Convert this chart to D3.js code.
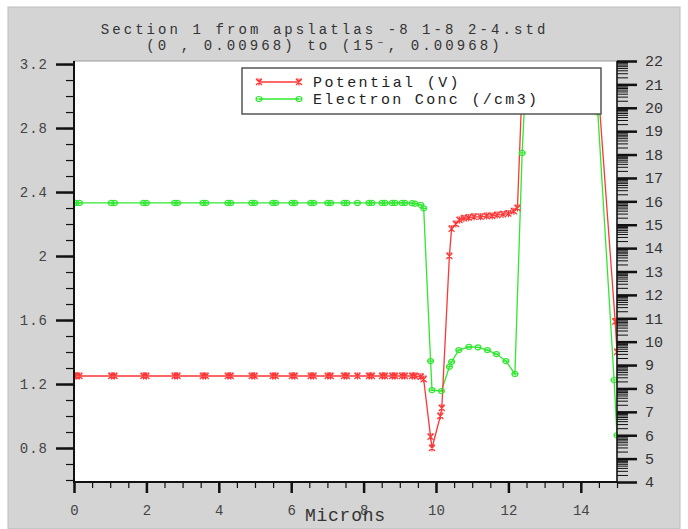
<!DOCTYPE html>
<html>
<head>
<meta charset="utf-8">
<script src="https://cdn.jsdelivr.net/npm/d3@7"></script>
<style>
body { margin: 0; background: #fff; }
svg text { font-family: "Liberation Mono", "DejaVu Sans Mono", monospace; }
</style>
</head>
<body>
<svg id="chart" width="688" height="529"></svg>
<script>
// chart text
var titleLines = ['Section 1 from apslatlas -8 1-8 2-4.std', '(0 , 0.00968) to (15\u207B, 0.00968)']
var seriesNames = ['Potential (V)', 'Electron Conc (/cm3)']

// tick labels
var leftTicks = [0.8, 1.2, 1.6, 2, 2.4, 2.8, 3.2]
var bottomTicks = [0, 2, 4, 6, 8, 10, 12, 14]
var rightTicks = [4, 5, 6, 7, 8, 9, 10, 11, 12, 13, 14, 15, 16, 17, 18, 19, 20, 21, 22]

// Potential (left axis)
var potX = [0, 0.05, 0.15, 1.03, 1.12, 1.92, 2.0, 2.78, 2.86, 3.56, 3.64, 4.25, 4.33, 4.91, 4.99,
	5.49, 5.57, 6.02, 6.10, 6.54, 6.62, 7.01, 7.09, 7.46, 7.54, 7.83, 8.15, 8.23, 8.51, 8.59,
	8.79, 8.87, 9.06, 9.14, 9.34, 9.42, 9.58, 9.66, 9.85, 9.89, 10.12, 10.16, 10.37, 10.43,
	10.55, 10.65, 10.77, 10.9, 11.05, 11.23, 11.4, 11.55, 11.69, 11.85, 12.0, 12.15, 12.25,
	12.38, 12.45, 14.42, 14.47, 14.95, 15.0]
var potV = [1.25, 1.25, 1.25, 1.25, 1.25, 1.25, 1.25, 1.25, 1.25, 1.25, 1.25, 1.25, 1.25, 1.25, 1.25,
	1.25, 1.25, 1.25, 1.25, 1.25, 1.25, 1.25, 1.25, 1.25, 1.25, 1.25, 1.25, 1.25, 1.25, 1.25,
	1.25, 1.25, 1.25, 1.25, 1.25, 1.25, 1.245, 1.23, 0.87, 0.80, 1.0, 1.05, 2.0, 2.17,
	2.2, 2.225, 2.235, 2.24, 2.245, 2.245, 2.25, 2.25, 2.256, 2.26, 2.265, 2.28, 2.3,
	3.07, 3.15, 3.15, 3.08, 1.59, 1.40]

// Electron Conc, log10 (right axis)
var elecX = [0, 0.05, 0.15, 1.03, 1.12, 1.92, 2.0, 2.78, 2.86, 3.56, 3.64, 4.25, 4.33, 4.91, 4.99,
	5.49, 5.57, 6.02, 6.10, 6.54, 6.62, 7.01, 7.09, 7.46, 7.54, 7.83, 8.15, 8.23, 8.51, 8.59,
	8.79, 8.87, 9.06, 9.14, 9.34, 9.42, 9.58, 9.66, 9.85, 9.89, 10.15, 10.37, 10.43, 10.63,
	10.91, 11.16, 11.42, 11.67, 11.93, 12.18, 12.38, 12.45, 14.4, 14.47, 14.92, 15.0]
var elecV = [15.93, 15.93, 15.93, 15.93, 15.93, 15.93, 15.93, 15.93, 15.93, 15.93, 15.93, 15.93, 15.93, 15.93, 15.93,
	15.93, 15.93, 15.93, 15.93, 15.93, 15.93, 15.93, 15.93, 15.93, 15.93, 15.93, 15.93, 15.93, 15.93, 15.93,
	15.93, 15.93, 15.93, 15.93, 15.92, 15.9, 15.85, 15.7, 9.17, 7.93, 7.89, 8.93, 9.14, 9.64,
	9.78, 9.76, 9.64, 9.47, 9.17, 8.62, 18.07, 20.3, 20.3, 19.8, 8.36, 6.0]

var red = '#ff3636'
var green = '#30e830'

var svg = d3.select('#chart')

// gray page
svg.append('rect')
	.attr('x', 8).attr('y', 7)
	.attr('width', 672).attr('height', 522)
	.attr('fill', '#d4d4d4')
	.attr('stroke', '#bdbdbd')

var x = d3.scaleLinear().domain([0, 15]).range([74, 617])
var yL = d3.scaleLinear().domain([0.5875, 3.219]).range([482, 61])
var yR = d3.scaleLinear().domain([4, 22]).range([482, 61])

// plot area
svg.append('rect')
	.attr('x', 74).attr('y', 61)
	.attr('width', 543).attr('height', 421)
	.attr('fill', 'white')
	.attr('stroke', '#999')

svg.append('clipPath').attr('id', 'plotClip')
	.append('rect')
	.attr('x', 74).attr('y', 61)
	.attr('width', 543).attr('height', 421)

var potData = potX.map(function(d, i) { return [d, potV[i]] })
var elecData = elecX.map(function(d, i) { return [d, elecV[i]] })

var plot = svg.append('g').attr('clip-path', 'url(#plotClip)')

plot.append('path')
	.datum(elecData)
	.attr('fill', 'none')
	.attr('stroke', green)
	.attr('stroke-width', 1.3)
	.attr('d', d3.line().x(function(d) { return x(d[0]) }).y(function(d) { return yR(d[1]) }))

plot.append('path')
	.datum(potData)
	.attr('fill', 'none')
	.attr('stroke', red)
	.attr('stroke-width', 1.3)
	.attr('d', d3.line().x(function(d) { return x(d[0]) }).y(function(d) { return yL(d[1]) }))

var starPath = 'M-3,-3L3,3M-3,3L3,-3M0,-3.5L0,3.5M-3,-3L-1,-3M1,-3L3,-3'
var circPath = 'M-3,0A3,2.5 0 1,0 3,0A3,2.5 0 1,0 -3,0M-3,0L3,0'

plot.selectAll('.elecMark')
	.data(elecData)
	.enter().append('path')
	.attr('class', 'elecMark')
	.attr('transform', function(d) { return 'translate(' + x(d[0]) + ',' + yR(d[1]) + ')' })
	.attr('d', circPath)
	.attr('fill', 'none')
	.attr('stroke', green)
	.attr('stroke-width', 1.2)

plot.selectAll('.potMark')
	.data(potData)
	.enter().append('path')
	.attr('class', 'potMark')
	.attr('transform', function(d) { return 'translate(' + x(d[0]) + ',' + yL(d[1]) + ')' })
	.attr('d', starPath)
	.attr('fill', 'none')
	.attr('stroke', red)
	.attr('stroke-width', 1.2)

// legend
var legend = svg.append('g').attr('id', 'legendBox')
legend.append('rect')
	.attr('x', 242).attr('y', 68)
	.attr('width', 359).attr('height', 46)
	.attr('fill', 'white')
	.attr('stroke', '#555')
	.attr('stroke-width', 1.5)

var legendRows = [
	{ name: seriesNames[0], color: red, mark: starPath, y: 82 },
	{ name: seriesNames[1], color: green, mark: circPath, y: 99 }
]
legendRows.forEach(function(r) {
	legend.append('line')
		.attr('x1', 259).attr('x2', 299)
		.attr('y1', r.y).attr('y2', r.y)
		.attr('stroke', r.color)
		.attr('stroke-width', 1.3)
	;[259, 299].forEach(function(px) {
		legend.append('path')
			.attr('transform', 'translate(' + px + ',' + r.y + ')')
			.attr('d', r.mark)
			.attr('fill', 'none')
			.attr('stroke', r.color)
			.attr('stroke-width', 1.2)
	})
	legend.append('text')
		.attr('x', 313).attr('y', r.y + 5)
		.attr('font-size', 15)
		.attr('textLength', r.name.length * 11.2)
		.attr('fill', '#222')
		.text(r.name)
})

// axes
function styleAxis(g, width) {
	g.select('.domain').remove()
	g.selectAll('line').attr('stroke', '#111').attr('stroke-width', width)
}

var leftMajor = svg.append('g')
	.attr('transform', 'translate(74,0)')
	.call(d3.axisLeft(yL).tickValues(leftTicks).tickSize(18).tickPadding(8)
		.tickFormat(function(d) { return String(+d.toFixed(1)) }))
styleAxis(leftMajor, 2.5)
leftMajor.selectAll('text')
	.attr('font-size', 14)
	.attr('letter-spacing', 1)
	.attr('fill', '#444')

var leftMinor = svg.append('g')
	.attr('transform', 'translate(74,0)')
	.call(d3.axisLeft(yL).tickValues(d3.range(0.6, 3.21, 0.1)).tickSize(8).tickFormat(''))
styleAxis(leftMinor, 1.2)

var bottomMajor = svg.append('g')
	.attr('transform', 'translate(0,482)')
	.call(d3.axisBottom(x).tickValues(bottomTicks).tickSize(11).tickPadding(12))
styleAxis(bottomMajor, 2.5)
bottomMajor.selectAll('text')
	.attr('font-size', 14)
	.attr('fill', '#444')

var bottomMinor = svg.append('g')
	.attr('transform', 'translate(0,482)')
	.call(d3.axisBottom(x).tickValues(d3.range(0, 15.01, 0.5)).tickSize(6).tickFormat(''))
styleAxis(bottomMinor, 1.2)

// log-decade minor ticks on right axis
var rightMinorVals = []
rightTicks.slice(0, -1).forEach(function(n) {
	[2, 3, 4, 5, 6, 7, 8, 9].forEach(function(k) { rightMinorVals.push(n + Math.log10(k)) })
})

var rightMinor = svg.append('g')
	.attr('transform', 'translate(617,0)')
	.call(d3.axisRight(yR).tickValues(rightMinorVals).tickSize(11).tickFormat(''))
styleAxis(rightMinor, 1)

var rightMajor = svg.append('g')
	.attr('transform', 'translate(617,0)')
	.call(d3.axisRight(yR).tickValues(rightTicks).tickSize(20).tickPadding(8))
styleAxis(rightMajor, 2.5)
rightMajor.selectAll('text')
	.attr('font-size', 15)
	.attr('fill', '#333')

// axis lines
svg.append('line')
	.attr('x1', 74).attr('x2', 74).attr('y1', 61).attr('y2', 483)
	.attr('stroke', '#111').attr('stroke-width', 2)
svg.append('line')
	.attr('x1', 73).attr('x2', 618).attr('y1', 482).attr('y2', 482)
	.attr('stroke', '#111').attr('stroke-width', 2)
svg.append('line')
	.attr('x1', 617).attr('x2', 617).attr('y1', 61).attr('y2', 483)
	.attr('stroke', '#111').attr('stroke-width', 1.5)

// title
svg.selectAll('.titleLine')
	.data(titleLines)
	.enter().append('text')
	.attr('class', 'titleLine')
	.attr('x', 323)
	.attr('y', function(d, i) { return 34 + i * 16 })
	.attr('text-anchor', 'middle')
	.attr('font-size', 14)
	.attr('textLength', function(d) { return d.length * 11.4 })
	.attr('fill', '#333')
	.text(function(d) { return d })

svg.append('text')
	.attr('x', 305).attr('y', 521)
	.attr('font-size', 18)
	.attr('textLength', 80)
	.attr('fill', '#333')
	.text('Microns')
</script>
</body>
</html>
